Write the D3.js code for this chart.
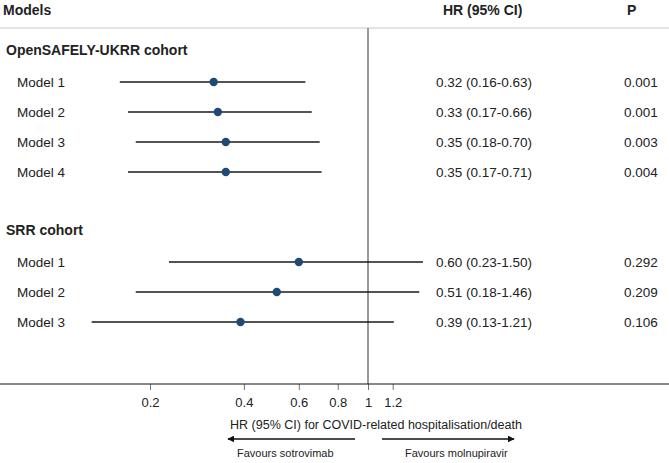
<!DOCTYPE html>
<html>
<head>
<meta charset="utf-8">
<script src="https://cdn.jsdelivr.net/npm/d3@7"></script>
<style>
  html, body { margin: 0; padding: 0; background: #fff; }
  svg { display: block; font-family: "Liberation Sans", Arial, sans-serif; }
</style>
</head>
<body>
<svg id="chart" width="669" height="463"></svg>
<script>
// ---- data ----
const rowLabels = ["OpenSAFELY-UKRR cohort", "Model 1", "Model 2", "Model 3", "Model 4", "", "SRR cohort", "Model 1", "Model 2", "Model 3"];
const rowIsHeader = [true, false, false, false, false, false, true, false, false, false];
const hr    = [null, 0.32, 0.33, 0.35, 0.35, null, null, 0.60, 0.51, 0.39];
const lower = [null, 0.16, 0.17, 0.18, 0.17, null, null, 0.23, 0.18, 0.13];
const upper = [null, 0.63, 0.66, 0.70, 0.71, null, null, 1.50, 1.46, 1.21];
const hrText = ["", "0.32 (0.16-0.63)", "0.33 (0.17-0.66)", "0.35 (0.18-0.70)", "0.35 (0.17-0.71)", "", "", "0.60 (0.23-1.50)", "0.51 (0.18-1.46)", "0.39 (0.13-1.21)"];
const pText = ["", "0.001", "0.001", "0.003", "0.004", "", "", "0.292", "0.209", "0.106"];
const tickValues = [0.2, 0.4, 0.6, 0.8, 1, 1.2];
const tickLabels = ["0.2", "0.4", "0.6", "0.8", "1", "1.2"];

// ---- layout ----
const svg = d3.select("#chart");
const W = 669;
const axisY = 384;
const topLineY = 28;
const textColor = "#222";
const pointColor = "#1f4a73";

const x = d3.scaleLog().domain([0.2, 1]).range([150, 368]);
const y = d3.scaleLinear().domain([0, 9]).range([52, 322]);

// top light rule
svg.append("line")
  .attr("x1", 0).attr("x2", W).attr("y1", topLineY).attr("y2", topLineY)
  .attr("stroke", "#c8c8c8").attr("stroke-width", 1.2);

// column headers
const hdr = svg.append("g").attr("font-weight", "bold").attr("font-size", 14).attr("fill", textColor);
hdr.append("text").attr("x", 3).attr("y", 15).text("Models");
hdr.append("text").attr("x", 443).attr("y", 15).text("HR (95% CI)");
hdr.append("text").attr("x", 627).attr("y", 15).text("P");

// reference line at 1
svg.append("line")
  .attr("x1", x(1)).attr("x2", x(1)).attr("y1", topLineY).attr("y2", axisY)
  .attr("stroke", "#999").attr("stroke-width", 2);

// row labels
const idx = d3.range(rowLabels.length);
svg.append("g").selectAll("text").data(idx).join("text")
  .attr("x", i => rowIsHeader[i] ? 6 : 17)
  .attr("y", i => y(i) + (rowIsHeader[i] ? -1.5 : 0))
  .attr("dy", "0.35em")
  .attr("font-size", i => rowIsHeader[i] ? 14 : 13.5)
  .attr("font-weight", i => rowIsHeader[i] ? "bold" : "normal")
  .attr("fill", textColor)
  .text(i => rowLabels[i]);

const dataIdx = idx.filter(i => hr[i] !== null);

// CI lines
svg.append("g").selectAll("line").data(dataIdx).join("line")
  .attr("x1", i => x(lower[i])).attr("x2", i => x(upper[i]))
  .attr("y1", i => y(i)).attr("y2", i => y(i))
  .attr("stroke", "#1a1a1a").attr("stroke-width", 1.5);

// points
svg.append("g").selectAll("circle").data(dataIdx).join("circle")
  .attr("cx", i => x(hr[i])).attr("cy", i => y(i)).attr("r", 4.2)
  .attr("fill", pointColor);

// HR text and P text
svg.append("g").selectAll("text").data(dataIdx).join("text")
  .attr("x", 436).attr("y", i => y(i)).attr("dy", "0.35em")
  .attr("font-size", 13.5).attr("fill", textColor)
  .text(i => hrText[i]);
svg.append("g").selectAll("text").data(dataIdx).join("text")
  .attr("x", 624).attr("y", i => y(i)).attr("dy", "0.35em")
  .attr("font-size", 13.5).attr("fill", textColor)
  .text(i => pText[i]);

// x axis
const axis = d3.axisBottom(x)
  .tickValues(tickValues)
  .tickFormat((d, i) => tickLabels[i])
  .tickSize(6).tickSizeOuter(0).tickPadding(8);
const ax = svg.append("g").attr("transform", `translate(0,${axisY})`).call(axis);
ax.select(".domain").remove();
ax.selectAll(".tick line").attr("stroke", "#777");
ax.selectAll(".tick text").attr("font-size", 13).attr("fill", textColor)
  .attr("font-family", "Liberation Sans, Arial, sans-serif");
svg.append("line")
  .attr("x1", 0).attr("x2", W).attr("y1", axisY).attr("y2", axisY)
  .attr("stroke", "#111").attr("stroke-width", 1.2);

// axis title
svg.append("text")
  .attr("x", 376).attr("y", 425).attr("dy", "0.35em")
  .attr("text-anchor", "middle").attr("font-size", 12.5).attr("fill", textColor)
  .text("HR (95% CI) for COVID-related hospitalisation/death");

// arrows
const defs = svg.append("defs");
defs.append("marker").attr("id", "ah").attr("viewBox", "0 0 10 10")
  .attr("refX", 9).attr("refY", 5).attr("markerWidth", 7).attr("markerHeight", 7)
  .attr("markerUnits", "userSpaceOnUse")
  .attr("orient", "auto")
  .append("path").attr("d", "M0,0 L10,5 L0,10 Z").attr("fill", "#111");

const arrowY = 439;
svg.append("line")
  .attr("x1", x(1) - 13).attr("x2", x(1) - 140).attr("y1", arrowY).attr("y2", arrowY)
  .attr("stroke", "#111").attr("stroke-width", 1.3).attr("marker-end", "url(#ah)");
svg.append("line")
  .attr("x1", x(1) + 14).attr("x2", x(1) + 146).attr("y1", arrowY).attr("y2", arrowY)
  .attr("stroke", "#111").attr("stroke-width", 1.3).attr("marker-end", "url(#ah)");

svg.append("text").attr("x", 237).attr("y", 453).attr("dy", "0.35em")
  .attr("font-size", 11).attr("fill", textColor).text("Favours sotrovimab");
svg.append("text").attr("x", 405).attr("y", 453).attr("dy", "0.35em")
  .attr("font-size", 11).attr("fill", textColor).text("Favours molnupiravir");
</script>
</body>
</html>
